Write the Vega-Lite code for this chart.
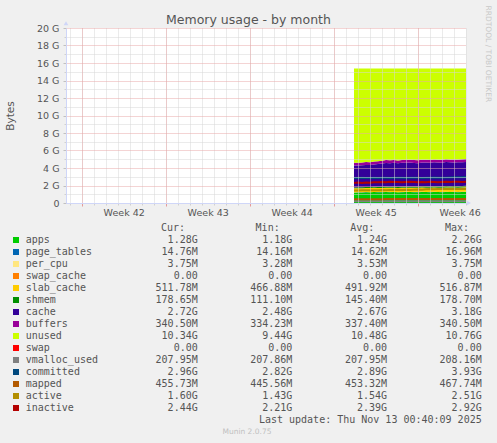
{
  "$schema": "https://vega.github.io/schema/vega-lite/v6.json",
  "width": 400,
  "height": 175,
  "autosize": {"type": "none"},
  "padding": {"left": 66, "top": 28, "right": 31, "bottom": 240},
  "background": "#f0f0f0",
  "title": {"text": "Memory usage - by month", "font": "DejaVu Sans", "fontSize": 12.5, "fontWeight": "normal", "color": "#555555", "anchor": "middle", "frame": "group", "dx": -17.5, "dy": 35, "offset": 4, "baseline": "alphabetic"},
  "config": {
    "view": {"fill": "#ffffff", "stroke": null},
    "font": "DejaVu Sans",
    "axis": {"labelFont": "DejaVu Sans", "labelFontSize": 9.5, "labelColor": "#555555", "titleFont": "DejaVu Sans", "titleColor": "#555555", "titleFontWeight": "normal"}
  },
  "datasets": {
    "memory": [
      {"t":"2025-11-03T16:40:00Z","apps":1.20,"page_tables":0.0142,"per_cpu":0.0033,"swap_cache":0,"slab_cache":0.456,"shmem":0.109,"cache":2.49,"buffers":0.326,"unused":10.767,"swap":0,"vmalloc_used":0.203,"committed":2.87,"mapped":0.436,"active":1.44,"inactive":2.30},
      {"t":"2025-11-04T00:40:00Z","apps":1.21,"page_tables":0.0142,"per_cpu":0.0033,"swap_cache":0,"slab_cache":0.458,"shmem":0.112,"cache":2.48,"buffers":0.327,"unused":10.761,"swap":0,"vmalloc_used":0.203,"committed":2.86,"mapped":0.437,"active":1.43,"inactive":2.33},
      {"t":"2025-11-04T08:40:00Z","apps":1.21,"page_tables":0.0142,"per_cpu":0.0033,"swap_cache":0,"slab_cache":0.462,"shmem":0.115,"cache":2.50,"buffers":0.327,"unused":10.734,"swap":0,"vmalloc_used":0.203,"committed":2.88,"mapped":0.438,"active":1.45,"inactive":2.28},
      {"t":"2025-11-04T16:40:00Z","apps":1.23,"page_tables":0.0142,"per_cpu":0.0033,"swap_cache":0,"slab_cache":0.465,"shmem":0.118,"cache":2.52,"buffers":0.327,"unused":10.688,"swap":0,"vmalloc_used":0.203,"committed":2.87,"mapped":0.439,"active":1.46,"inactive":2.35},
      {"t":"2025-11-05T00:40:00Z","apps":1.22,"page_tables":0.0142,"per_cpu":0.0033,"swap_cache":0,"slab_cache":0.466,"shmem":0.121,"cache":2.51,"buffers":0.327,"unused":10.704,"swap":0,"vmalloc_used":0.203,"committed":2.86,"mapped":0.440,"active":1.45,"inactive":2.32},
      {"t":"2025-11-05T08:40:00Z","apps":1.25,"page_tables":0.0142,"per_cpu":0.0035,"swap_cache":0,"slab_cache":0.468,"shmem":0.124,"cache":2.55,"buffers":0.328,"unused":10.627,"swap":0,"vmalloc_used":0.203,"committed":2.88,"mapped":0.441,"active":1.47,"inactive":2.38},
      {"t":"2025-11-05T16:40:00Z","apps":1.24,"page_tables":0.0142,"per_cpu":0.0035,"swap_cache":0,"slab_cache":0.470,"shmem":0.127,"cache":2.60,"buffers":0.328,"unused":10.582,"swap":0,"vmalloc_used":0.203,"committed":2.87,"mapped":0.442,"active":1.46,"inactive":2.36},
      {"t":"2025-11-06T00:40:00Z","apps":1.23,"page_tables":0.0142,"per_cpu":0.0035,"swap_cache":0,"slab_cache":0.471,"shmem":0.129,"cache":2.66,"buffers":0.328,"unused":10.529,"swap":0,"vmalloc_used":0.203,"committed":2.89,"mapped":0.442,"active":1.48,"inactive":2.40},
      {"t":"2025-11-06T08:40:00Z","apps":1.26,"page_tables":0.0142,"per_cpu":0.0035,"swap_cache":0,"slab_cache":0.472,"shmem":0.132,"cache":2.70,"buffers":0.328,"unused":10.455,"swap":0,"vmalloc_used":0.203,"committed":2.88,"mapped":0.443,"active":1.47,"inactive":2.37},
      {"t":"2025-11-06T16:40:00Z","apps":1.24,"page_tables":0.0142,"per_cpu":0.0035,"swap_cache":0,"slab_cache":0.474,"shmem":0.134,"cache":2.68,"buffers":0.329,"unused":10.490,"swap":0,"vmalloc_used":0.203,"committed":2.87,"mapped":0.443,"active":1.49,"inactive":2.42},
      {"t":"2025-11-07T00:40:00Z","apps":1.25,"page_tables":0.0143,"per_cpu":0.0035,"swap_cache":0,"slab_cache":0.475,"shmem":0.136,"cache":2.71,"buffers":0.329,"unused":10.447,"swap":0,"vmalloc_used":0.203,"committed":2.88,"mapped":0.443,"active":1.48,"inactive":2.39},
      {"t":"2025-11-07T08:40:00Z","apps":1.22,"page_tables":0.0143,"per_cpu":0.0035,"swap_cache":0,"slab_cache":0.476,"shmem":0.138,"cache":2.69,"buffers":0.329,"unused":10.494,"swap":0,"vmalloc_used":0.203,"committed":2.89,"mapped":0.444,"active":1.50,"inactive":2.41},
      {"t":"2025-11-07T16:40:00Z","apps":1.24,"page_tables":0.0143,"per_cpu":0.0035,"swap_cache":0,"slab_cache":0.478,"shmem":0.140,"cache":2.72,"buffers":0.329,"unused":10.440,"swap":0,"vmalloc_used":0.203,"committed":2.88,"mapped":0.444,"active":1.49,"inactive":2.38},
      {"t":"2025-11-08T00:40:00Z","apps":1.26,"page_tables":0.0143,"per_cpu":0.0035,"swap_cache":0,"slab_cache":0.479,"shmem":0.142,"cache":2.70,"buffers":0.329,"unused":10.437,"swap":0,"vmalloc_used":0.203,"committed":2.87,"mapped":0.444,"active":1.51,"inactive":2.40},
      {"t":"2025-11-08T08:40:00Z","apps":1.25,"page_tables":0.0143,"per_cpu":0.0035,"swap_cache":0,"slab_cache":0.480,"shmem":0.144,"cache":2.73,"buffers":0.330,"unused":10.413,"swap":0,"vmalloc_used":0.203,"committed":2.88,"mapped":0.444,"active":1.50,"inactive":2.43},
      {"t":"2025-11-08T16:40:00Z","apps":1.23,"page_tables":0.0143,"per_cpu":0.0035,"swap_cache":0,"slab_cache":0.481,"shmem":0.146,"cache":2.71,"buffers":0.330,"unused":10.450,"swap":0,"vmalloc_used":0.203,"committed":2.89,"mapped":0.443,"active":1.52,"inactive":2.39},
      {"t":"2025-11-09T00:40:00Z","apps":1.24,"page_tables":0.0143,"per_cpu":0.0035,"swap_cache":0,"slab_cache":0.482,"shmem":0.148,"cache":2.66,"buffers":0.330,"unused":10.487,"swap":0,"vmalloc_used":0.203,"committed":2.88,"mapped":0.443,"active":1.53,"inactive":2.36},
      {"t":"2025-11-09T08:40:00Z","apps":1.27,"page_tables":0.0143,"per_cpu":0.0035,"swap_cache":0,"slab_cache":0.483,"shmem":0.150,"cache":2.70,"buffers":0.330,"unused":10.414,"swap":0,"vmalloc_used":0.203,"committed":2.87,"mapped":0.444,"active":1.52,"inactive":2.41},
      {"t":"2025-11-09T16:40:00Z","apps":1.25,"page_tables":0.0143,"per_cpu":0.0035,"swap_cache":0,"slab_cache":0.485,"shmem":0.152,"cache":2.72,"buffers":0.330,"unused":10.410,"swap":0,"vmalloc_used":0.203,"committed":2.88,"mapped":0.444,"active":1.58,"inactive":2.38},
      {"t":"2025-11-10T00:40:00Z","apps":1.24,"page_tables":0.0143,"per_cpu":0.0035,"swap_cache":0,"slab_cache":0.486,"shmem":0.154,"cache":2.69,"buffers":0.331,"unused":10.446,"swap":0,"vmalloc_used":0.203,"committed":2.89,"mapped":0.444,"active":1.59,"inactive":2.42},
      {"t":"2025-11-10T08:40:00Z","apps":1.26,"page_tables":0.0144,"per_cpu":0.0036,"swap_cache":0,"slab_cache":0.487,"shmem":0.156,"cache":2.73,"buffers":0.331,"unused":10.383,"swap":0,"vmalloc_used":0.203,"committed":2.90,"mapped":0.445,"active":1.58,"inactive":2.40},
      {"t":"2025-11-10T16:40:00Z","apps":1.25,"page_tables":0.0144,"per_cpu":0.0036,"swap_cache":0,"slab_cache":0.489,"shmem":0.158,"cache":2.71,"buffers":0.331,"unused":10.409,"swap":0,"vmalloc_used":0.203,"committed":2.89,"mapped":0.445,"active":1.60,"inactive":2.37},
      {"t":"2025-11-11T00:40:00Z","apps":1.23,"page_tables":0.0144,"per_cpu":0.0036,"swap_cache":0,"slab_cache":0.490,"shmem":0.160,"cache":2.70,"buffers":0.331,"unused":10.436,"swap":0,"vmalloc_used":0.203,"committed":2.88,"mapped":0.444,"active":1.59,"inactive":2.41},
      {"t":"2025-11-11T08:40:00Z","apps":1.26,"page_tables":0.0144,"per_cpu":0.0036,"swap_cache":0,"slab_cache":0.492,"shmem":0.162,"cache":2.74,"buffers":0.331,"unused":10.362,"swap":0,"vmalloc_used":0.203,"committed":2.90,"mapped":0.445,"active":1.61,"inactive":2.43},
      {"t":"2025-11-11T16:40:00Z","apps":1.25,"page_tables":0.0144,"per_cpu":0.0036,"swap_cache":0,"slab_cache":0.493,"shmem":0.164,"cache":2.72,"buffers":0.332,"unused":10.388,"swap":0,"vmalloc_used":0.203,"committed":2.92,"mapped":0.445,"active":1.60,"inactive":2.40},
      {"t":"2025-11-12T00:40:00Z","apps":1.27,"page_tables":0.0144,"per_cpu":0.0036,"swap_cache":0,"slab_cache":0.495,"shmem":0.166,"cache":2.69,"buffers":0.332,"unused":10.394,"swap":0,"vmalloc_used":0.203,"committed":2.93,"mapped":0.445,"active":1.59,"inactive":2.44},
      {"t":"2025-11-12T08:40:00Z","apps":1.24,"page_tables":0.0144,"per_cpu":0.0036,"swap_cache":0,"slab_cache":0.496,"shmem":0.169,"cache":2.73,"buffers":0.332,"unused":10.380,"swap":0,"vmalloc_used":0.203,"committed":2.94,"mapped":0.445,"active":1.61,"inactive":2.42},
      {"t":"2025-11-12T16:40:00Z","apps":1.26,"page_tables":0.0144,"per_cpu":0.0036,"swap_cache":0,"slab_cache":0.498,"shmem":0.172,"cache":2.71,"buffers":0.332,"unused":10.375,"swap":0,"vmalloc_used":0.203,"committed":2.95,"mapped":0.445,"active":1.60,"inactive":2.41},
      {"t":"2025-11-13T00:40:00Z","apps":1.28,"page_tables":0.0144,"per_cpu":0.0037,"swap_cache":0,"slab_cache":0.500,"shmem":0.174,"cache":2.72,"buffers":0.333,"unused":10.340,"swap":0,"vmalloc_used":0.203,"committed":2.96,"mapped":0.445,"active":1.60,"inactive":2.44}
    ],
    "stats": [
      {"name":"apps","Cur":"1.28G","Min":"1.18G","Avg":"1.24G","Max":"2.26G"},
      {"name":"page_tables","Cur":"14.76M","Min":"14.16M","Avg":"14.62M","Max":"16.96M"},
      {"name":"per_cpu","Cur":"3.75M","Min":"3.28M","Avg":"3.53M","Max":"3.75M"},
      {"name":"swap_cache","Cur":"0.00\u00a0","Min":"0.00\u00a0","Avg":"0.00\u00a0","Max":"0.00\u00a0"},
      {"name":"slab_cache","Cur":"511.78M","Min":"466.88M","Avg":"491.92M","Max":"516.87M"},
      {"name":"shmem","Cur":"178.65M","Min":"111.10M","Avg":"145.40M","Max":"178.70M"},
      {"name":"cache","Cur":"2.72G","Min":"2.48G","Avg":"2.67G","Max":"3.18G"},
      {"name":"buffers","Cur":"340.50M","Min":"334.23M","Avg":"337.40M","Max":"340.50M"},
      {"name":"unused","Cur":"10.34G","Min":"9.44G","Avg":"10.48G","Max":"10.76G"},
      {"name":"swap","Cur":"0.00\u00a0","Min":"0.00\u00a0","Avg":"0.00\u00a0","Max":"0.00\u00a0"},
      {"name":"vmalloc_used","Cur":"207.95M","Min":"207.86M","Avg":"207.95M","Max":"208.16M"},
      {"name":"committed","Cur":"2.96G","Min":"2.82G","Avg":"2.89G","Max":"3.93G"},
      {"name":"mapped","Cur":"455.73M","Min":"445.56M","Avg":"453.32M","Max":"467.74M"},
      {"name":"active","Cur":"1.60G","Min":"1.43G","Avg":"1.54G","Max":"2.51G"},
      {"name":"inactive","Cur":"2.44G","Min":"2.21G","Avg":"2.39G","Max":"2.92G"}
    ]
  },
  "layer": [
    {
      "data": {"name": "memory"},
      "layer": [
        {
          "transform": [
            {"fold": ["apps","page_tables","per_cpu","swap_cache","slab_cache","shmem","cache","buffers","unused","swap"], "as": ["series","value"]},
            {"calculate": "indexof(['apps','page_tables','per_cpu','swap_cache','slab_cache','shmem','cache','buffers','unused','swap'], datum.series)", "as": "stack_rank"}
          ],
          "mark": {"type": "area", "opacity": 1, "interpolate": "linear"},
          "encoding": {
            "x": {"field": "t", "type": "temporal", "scale": {"type": "utc", "domain": [1760114409000, 1762994409000]},
                  "axis": {"orient": "bottom", "values": [1760227200000, 1760832000000, 1761436800000, 1762041600000, 1762646400000], "labels": false, "title": null, "grid": true, "gridColor": "#e8a8a8", "gridDash": [1,1], "ticks": true, "tickColor": "#e49a9a", "tickSize": 3, "domain": false, "zindex": 2}},
            "y": {"field": "value", "type": "quantitative", "stack": "zero", "scale": {"domain": [0, 20], "nice": false, "zero": true},
                  "axis": {"orient": "left", "values": [0,2,4,6,8,10,12,14,16,18,20], "labelExpr": "datum.value == 0 ? '0' : datum.value + ' G'", "labelPadding": 4, "grid": true, "gridColor": "#e8a8a8", "gridDash": [1,1], "ticks": true, "tickColor": "#c0c0c0", "tickSize": 3, "domain": true, "domainColor": "#cfd6f8", "zindex": 2,
                           "title": "Bytes", "titleFontSize": 10.5, "titleX": -55.5, "titleY": 87.5, "titleAngle": 270, "titleAlign": "center", "titleBaseline": "middle"}},
            "order": {"field": "stack_rank", "type": "quantitative", "sort": "ascending"},
            "color": {"field": "series", "type": "nominal",
                      "scale": {"domain": ["apps","page_tables","per_cpu","swap_cache","slab_cache","shmem","cache","buffers","unused","swap","vmalloc_used","committed","mapped","active","inactive"],
                                "range": ["#00cc00","#0066b3","#ffe680","#ff8000","#ffcc00","#008f00","#330099","#990099","#ccff00","#ff0000","#808080","#00487d","#b35a00","#b38f00","#b30000"]},
                      "legend": null}
          }
        },
        {
          "transform": [{"fold": ["vmalloc_used","committed","mapped","active","inactive"], "as": ["series","value"]}],
          "mark": {"type": "line", "strokeWidth": 2},
          "encoding": {
            "x": {"field": "t", "type": "temporal",
                  "axis": {"orient": "bottom", "tickCount": {"interval": "day", "step": 1}, "labels": false, "title": null, "grid": true, "gridColor": "#d6d6d6", "gridDash": [1,1], "ticks": true, "tickColor": "#d0d0d0", "tickSize": 2, "domain": false, "zindex": 1}},
            "y": {"field": "value", "type": "quantitative",
                  "axis": {"orient": "left", "values": [1,3,5,7,9,11,13,15,17,19], "labels": false, "title": null, "grid": true, "gridColor": "#d6d6d6", "gridDash": [1,1], "ticks": true, "tickColor": "#d0d0d0", "tickSize": 2, "domain": false, "zindex": 1}},
            "color": {"field": "series", "type": "nominal", "legend": null}
          }
        },
        {
          "data": {"values": [{"arrow": "y"}]},
          "mark": {"type": "point", "shape": "triangle-up", "filled": true, "size": 22, "color": "#cfd6f8", "opacity": 1},
          "encoding": {
            "x": {"datum": 1760114409000, "type": "temporal",
                  "axis": {"orient": "bottom", "values": [1760529600000, 1761134400000, 1761739200000, 1762344000000, 1762948800000], "labelExpr": "utcFormat(datum.value, 'Week %V')", "labelPadding": 4, "title": null, "grid": false, "ticks": false, "domain": true, "domainColor": "#cfd6f8", "zindex": 3}},
            "y": {"datum": 20.55, "type": "quantitative",
                  "axis": {"orient": "right", "labels": false, "ticks": false, "grid": false, "domain": false,
                           "title": "RRDTOOL / TOBI OETIKER", "titleFontSize": 7.5, "titleColor": "#c8c8c8", "titleAngle": 90, "titleAlign": "left", "titleBaseline": "middle", "titleX": 21, "titleY": -23}}
          }
        },
        {
          "data": {"values": [{"arrow": "x"}]},
          "mark": {"type": "point", "shape": "triangle-right", "filled": true, "size": 22, "color": "#cfd6f8", "opacity": 1},
          "encoding": {
            "x": {"datum": 1763016009000, "type": "temporal", "axis": null},
            "y": {"datum": 0, "type": "quantitative", "axis": null}
          }
        }
      ],
      "resolve": {"axis": {"x": "independent", "y": "independent"}}
    },
    {
      "data": {"name": "stats"},
      "layer": [
        {
          "mark": {"type": "square", "size": 36, "opacity": 1, "filled": true},
          "encoding": {
            "x": {"datum": "name", "type": "nominal", "bandPosition": 0.08,
                  "scale": {"type": "band", "domain": ["name","Cur","Min","Avg","Max"], "range": [-57.6, 415.7], "paddingInner": 0, "paddingOuter": 0}, "axis": null},
            "y": {"field": "name", "type": "nominal",
                  "scale": {"type": "point", "domain": ["header","apps","page_tables","per_cpu","swap_cache","slab_cache","shmem","cache","buffers","unused","swap","vmalloc_used","committed","mapped","active","inactive","update","version"], "range": [200, 404], "padding": 0}, "axis": null},
            "color": {"field": "name", "type": "nominal", "legend": null}
          }
        },
        {
          "mark": {"type": "text", "font": "DejaVu Sans Mono", "fontSize": 10, "align": "left", "baseline": "middle", "color": "#555555"},
          "encoding": {
            "x": {"datum": "name", "type": "nominal", "bandPosition": 0.183, "axis": null},
            "y": {"field": "name", "type": "nominal", "axis": null},
            "text": {"field": "name"}
          }
        },
        {
          "transform": [{"fold": ["Cur","Min","Avg","Max"], "as": ["col","val"]}],
          "mark": {"type": "text", "font": "DejaVu Sans Mono", "fontSize": 10, "align": "right", "baseline": "middle", "color": "#555555"},
          "encoding": {
            "x": {"field": "col", "type": "nominal", "bandPosition": 1, "axis": null},
            "y": {"field": "name", "type": "nominal", "axis": null},
            "text": {"field": "val"}
          }
        },
        {
          "data": {"values": [{"col":"Cur","label":"Cur:"},{"col":"Min","label":"Min:"},{"col":"Avg","label":"Avg:"},{"col":"Max","label":"Max:"}]},
          "mark": {"type": "text", "font": "DejaVu Sans Mono", "fontSize": 10, "align": "right", "baseline": "middle", "color": "#555555"},
          "encoding": {
            "x": {"field": "col", "type": "nominal", "bandPosition": 0.866, "axis": null},
            "y": {"datum": "header", "type": "nominal", "axis": null},
            "text": {"field": "label"}
          }
        },
        {
          "data": {"values": [{"line": "Last update: Thu Nov 13 00:40:09 2025"}]},
          "mark": {"type": "text", "font": "DejaVu Sans Mono", "fontSize": 10, "align": "right", "baseline": "middle", "color": "#555555"},
          "encoding": {
            "x": {"datum": "Max", "type": "nominal", "bandPosition": 1, "axis": null},
            "y": {"datum": "update", "type": "nominal", "axis": null},
            "text": {"field": "line"}
          }
        },
        {
          "data": {"values": [{"line": "Munin 2.0.75"}]},
          "mark": {"type": "text", "font": "DejaVu Sans", "fontSize": 7.5, "align": "center", "baseline": "middle", "color": "#c0c0c0"},
          "encoding": {
            "x": {"datum": "Min", "type": "nominal", "bandPosition": 0.52, "axis": null},
            "y": {"datum": "version", "type": "nominal", "axis": null},
            "text": {"field": "line"}
          }
        }
      ]
    }
  ],
  "resolve": {"scale": {"x": "independent", "y": "independent"}}
}
